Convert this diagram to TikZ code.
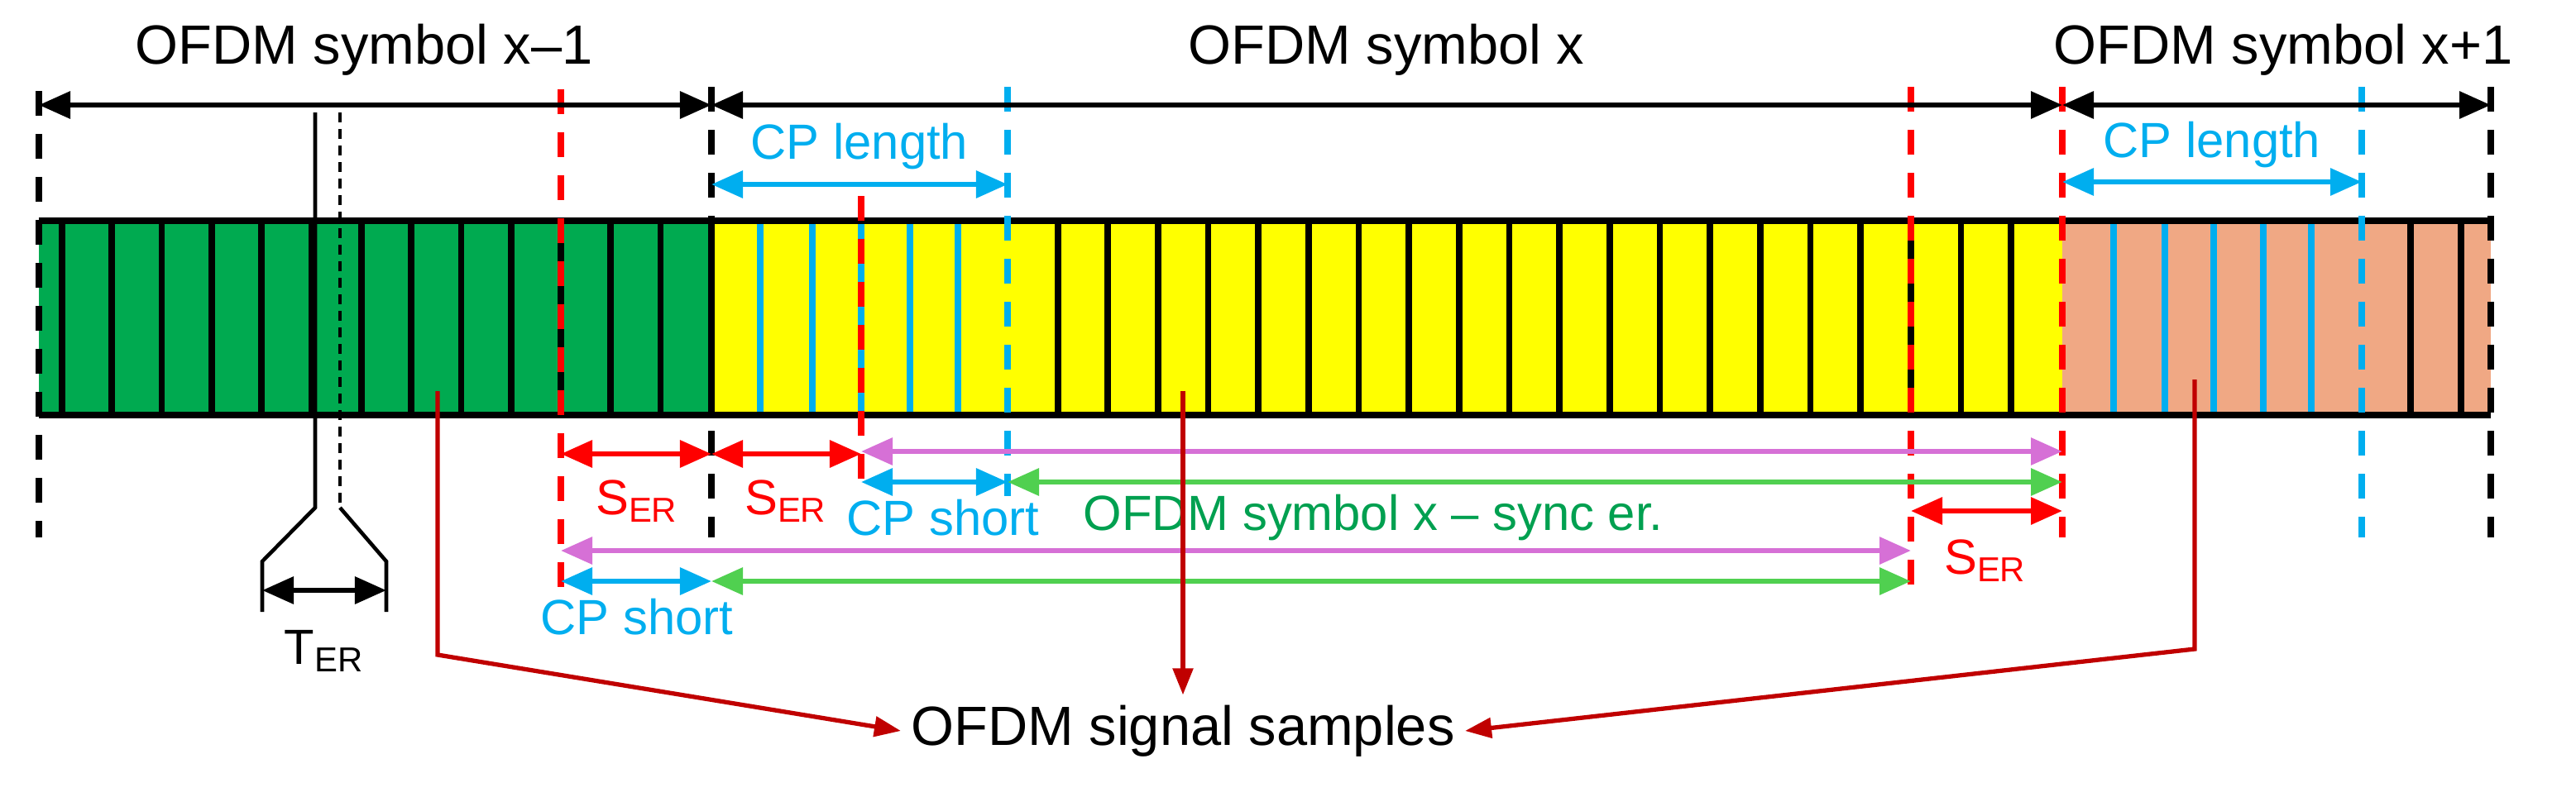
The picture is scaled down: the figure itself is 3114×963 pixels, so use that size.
\documentclass[tikz,border=0pt]{standalone}
\usepackage{fontspec}
\setmainfont{Liberation Sans}
\usetikzlibrary{arrows.meta}
\definecolor{cgreen}{RGB}{0,170,80}
\definecolor{cyel}{RGB}{255,255,0}
\definecolor{csal}{RGB}{240,168,132}
\definecolor{cblue}{RGB}{0,174,239}
\definecolor{cred}{RGB}{255,0,0}
\definecolor{cmag}{RGB}{214,112,214}
\definecolor{cgarr}{RGB}{80,208,80}
\definecolor{ctg}{RGB}{0,160,80}
\definecolor{cdred}{RGB}{192,0,0}
\begin{document}
\begin{tikzpicture}[x=0.01cm,y=-0.01cm,
  dim/.style={line width=1.8pt,{Triangle[length=0.38cm,width=0.32cm]}-{Triangle[length=0.38cm,width=0.32cm]}},
  cell/.style={line width=2.2pt},
  bcell/.style={line width=2.2pt,cblue},
  dsh/.style={line width=2.3pt,dash pattern=on 0.3cm off 0.22cm},
  ttl/.style={font=\fontsize{19}{22}\selectfont},
  lbl/.style={font=\fontsize{17}{20}\selectfont},
  ptr/.style={line width=1.5pt,cdred,-{Triangle[length=0.32cm,width=0.24cm]}}]
\useasboundingbox (0,0) rectangle (3114,963);
% boxes
\fill[cgreen] (47,267) rectangle (860,502);
\fill[cyel] (860,267) rectangle (2493,502);
\fill[csal] (2493,267) rectangle (3011,502);
\foreach \x in {75,135.3,...,800} \draw[cell] (\x,267)--(\x,502);
\foreach \x in {919,982,1041,1100,1158} \draw[bcell] (\x,267)--(\x,502);
\foreach \i in {1,...,20} \draw[cell] ({1218+60.65*\i},267)--({1218+60.65*\i},502);
\foreach \x in {2555,2617,2676,2736,2794} \draw[bcell] (\x,267)--(\x,502);
\foreach \x in {2914,2975} \draw[cell] (\x,267)--(\x,502);
\draw[line width=2.2pt] (47,267)--(3011,267) (47,502)--(3011,502) (860,267)--(860,502);
% dashed verticals
\draw[dsh] (47,110)--(47,650);
\draw[dsh] (860,105)--(860,650);
\draw[dsh] (3011,105)--(3011,650);
\draw[dsh,cred] (678,108)--(678,710);
\draw[dsh,cred] (1041,237)--(1041,580);
\draw[dsh,cred] (2310,105)--(2310,710);
\draw[dsh,cred] (2493,105)--(2493,650);
\draw[dsh,cblue] (1218,105)--(1218,600);
\draw[dsh,cblue] (2855,105)--(2855,650);
% TER
\draw[line width=1.3pt] (381,136)--(381,614)--(317,679)--(317,740);
\draw[line width=1.3pt,dash pattern=on 0.12cm off 0.08cm] (411,136)--(411,614);
\draw[line width=1.3pt] (411,614)--(467,679)--(467,740);
\coordinate (t1) at (317,714); \coordinate (t2) at (467,714);
\draw[dim] (t1)--(t2);
\node[lbl] (ter) at (392,787) {T\textsubscript{ER}};
% top dims
\coordinate (a0) at (47,127); \coordinate (a1) at (860,127);
\coordinate (a2) at (2493,127); \coordinate (a3) at (3011,127);
\draw[dim] (a0)--(a1); \draw[dim] (a1)--(a2); \draw[dim] (a2)--(a3);
\node[ttl] (s1) at (440,60) {OFDM symbol x\textendash1};
\node[ttl] (s2) at (1676,60) {OFDM symbol x};
\node[ttl] (s3) at (2760,60) {OFDM symbol x+1};
% CP length
\coordinate (c0) at (860,223); \coordinate (c1) at (1218,223);
\draw[dim,cblue] (c0)--(c1);
\node[lbl,cblue] (cpl1) at (1039,177) {CP length};
\coordinate (c2) at (2493,220); \coordinate (c3) at (2855,220);
\draw[dim,cblue] (c2)--(c3);
\node[lbl,cblue] (cpl2) at (2674,175) {CP length};
% lower dims
\coordinate (r0) at (678,549); \coordinate (r1) at (860,549); \coordinate (r2) at (1041,549);
\draw[dim,cred] (r0)--(r1); \draw[dim,cred] (r1)--(r2);
\node[lbl,cred] (se1) at (770,606) {S\textsubscript{ER}};
\node[lbl,cred] (se2) at (950,606) {S\textsubscript{ER}};
\coordinate (m0) at (1041,546); \coordinate (m1) at (2493,546);
\draw[dim,cmag] (m0)--(m1);
\coordinate (b0) at (1041,583); \coordinate (b1) at (1218,583); \coordinate (g1) at (2493,583);
\draw[dim,cblue] (b0)--(b1); \draw[dim,cgarr] (b1)--(g1);
\node[lbl,cblue] (cps1) at (1140,626) {CP short};
\node[lbl,ctg] (sync) at (1660,626) {OFDM symbol x \textendash{} sync er.};
\coordinate (r3) at (2310,618); \coordinate (r4) at (2493,618);
\draw[dim,cred] (r3)--(r4);
\node[lbl,cred] (se3) at (2400,678) {S\textsubscript{ER}};
\coordinate (m2) at (678,666); \coordinate (m3) at (2310,666);
\draw[dim,cmag] (m2)--(m3);
\coordinate (b2) at (678,703); \coordinate (b3) at (860,703); \coordinate (g3) at (2310,703);
\draw[dim,cblue] (b2)--(b3); \draw[dim,cgarr] (b3)--(g3);
\node[lbl,cblue] (cps2) at (770,746) {CP short};
% pointers
\node[ttl] (sam) at (1430,884) {OFDM signal samples};
\coordinate (p1) at (529,473); \coordinate (p1b) at (529,792);
\draw[ptr] (p1)--(p1b)--(sam.west);
\coordinate (p2) at (1430,473);
\draw[ptr] (p2)--(sam.north);
\coordinate (p3) at (2653,459); \coordinate (p3b) at (2653,785);
\draw[ptr] (p3)--(p3b)--(sam.east);
\end{tikzpicture}
\end{document}
